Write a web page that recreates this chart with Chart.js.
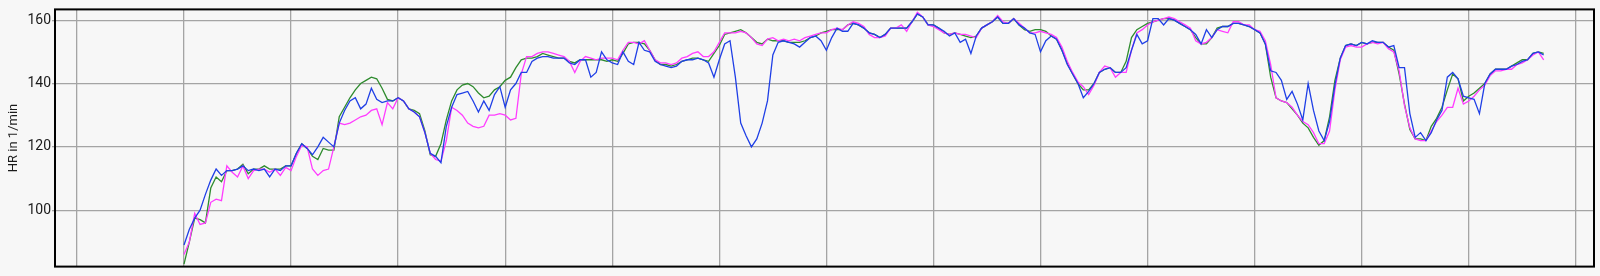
<!DOCTYPE html>
<html>
<head>
<meta charset="utf-8">
<script src="https://cdn.jsdelivr.net/npm/chart.js@4"></script>
<style>
  html, body { margin: 0; padding: 0; background: #f7f7f7; }
  #wrap { width: 1600px; height: 276px; }
</style>
</head>
<body>
<div id="wrap"><canvas id="hrChart"></canvas></div>
<script>
'use strict';

// time axis (arbitrary units, one grid line every 10), samples every 0.5
const timeStart = 10;
const timeStep = 0.5;
const xGridTicks = [0, 10, 20, 30, 40, 50, 60, 70, 80, 90, 100, 110, 120, 130, 140];
const yTicks = [100, 120, 140, 160];

const hrBlue = [
  89, 94, 97.5, 100, 105, 109.5, 113, 111, 112.5, 112.5,
  113, 114, 112.5, 113, 112.5, 113, 110.5, 113, 112.5, 114,
  114, 118, 121, 119.5, 117.5, 120, 123, 121.5, 120, 127.5,
  131.5, 134.5, 135.5, 132, 133.5, 138.5, 135, 134, 134.5, 134.5,
  135.5, 134.5, 132, 131, 129.5, 124.5, 118, 117, 115, 126.5,
  132.5, 136.5, 137, 137.5, 134.5, 131, 134.5, 131.5, 136.5, 139,
  132.5, 138, 140, 143.5, 143.5, 147, 148, 148.5, 148.5, 148,
  148, 148, 146.5, 146, 147.5, 147.5, 142, 143.5, 150, 147.5,
  146.5, 146, 150, 147, 146, 153, 150.5, 150, 147, 146,
  145.5, 145, 145.5, 147, 147.5, 147.5, 148, 147.5, 146.5, 142,
  147.5, 152.5, 153.5, 142, 127.5, 123.5, 120, 122.5, 127.5, 134.5,
  149, 153, 153.5, 153, 152.5, 151.5, 153, 154.5, 155, 153.5,
  150.5, 154.5, 157.5, 156.5, 156.5, 159, 158.5, 157.5, 156, 155.5,
  154.5, 155.5, 157.5, 157.5, 157.5, 157.5, 159.5, 162, 161, 158.5,
  158.5, 157.5, 156.5, 155, 156, 153, 154, 149.5, 155, 157.5,
  158.5, 159.5, 161, 159, 159, 160.5, 158.5, 157.5, 156, 155.5,
  150, 153.5, 155, 154, 150.5, 146, 143, 140, 135.5, 137.5,
  140, 143.5, 144.5, 145, 143.5, 143.5, 145, 150.5, 155.5, 152.5,
  153.5, 160.5, 160.5, 158.5, 160.5, 160, 159, 158, 157, 155.5,
  152.5, 157, 154.5, 157, 158, 158, 159, 159, 158.5, 158,
  157, 156, 152.5, 144, 143.5, 141, 135, 137.5, 133.5, 128.5,
  140, 131.5, 125, 122, 128, 139.5, 148, 152, 152.5, 152,
  153, 152.5, 153.5, 153, 153, 151.5, 152, 145, 145, 130.5,
  123, 124.5, 122, 124.5, 128.5, 131.5, 142, 143.5, 141.5, 136,
  135.5, 135, 130.5, 140, 143, 144.5, 144.5, 144.5, 145.5, 146,
  147, 147.5, 149.5, 150, 149
];

const hrGreen = [
  83, 90, 97.5, 97, 96, 107, 110.5, 109, 112.5, 112.5,
  113, 114.5, 111.5, 113, 113, 114, 113, 113, 113, 114,
  114, 118, 121, 119.5, 117, 116, 119.5, 119, 119, 129.5,
  132.5, 135.5, 138, 140, 141, 142, 141.5, 138.5, 135, 134.5,
  135.5, 134.5, 132, 131.5, 130.5, 125, 117.5, 117, 121, 128.5,
  134.5, 138, 139.5, 140, 139, 137, 135.5, 136, 138, 139,
  141, 142, 145, 147.5, 148, 148, 148.5, 149.5, 149, 148.5,
  148, 148, 147, 146.5, 147.5, 147.5, 147.5, 147.5, 147.5, 147,
  147.5, 147, 149.5, 152.5, 153, 153, 152.5, 150.5, 147.5, 146,
  146, 145.5, 146, 147, 147.5, 148, 148, 147.5, 147, 149.5,
  152, 155.5, 156, 156.5, 157, 156, 154.5, 153, 152.5, 154,
  153.5, 153.5, 153.5, 153, 153, 153, 153.5, 154.5, 155, 156,
  156.5, 157, 157, 157, 158.5, 159, 158.5, 157.5, 156, 155.5,
  154.5, 155.5, 157.5, 157.5, 157.5, 157.5, 159.5, 162, 161, 158.5,
  158.5, 157.5, 156, 155.5, 156, 155.5, 155, 154.5, 155, 157.5,
  158.5, 159.5, 161, 159, 159, 160.5, 158.5, 157, 156.5, 157,
  157, 156.5, 155, 154, 150.5, 146.5, 143, 140, 138, 138,
  140, 143.5, 144.5, 145, 143.5, 143.5, 147, 154.5, 157, 158,
  159, 159.5, 160, 160.5, 160.5, 160, 159, 158, 157, 154.5,
  152.5, 152.5, 154.5, 157.5, 158, 158, 159, 159, 158.5, 158,
  157, 156, 152.5, 142, 135.5, 134.5, 134, 132, 130, 127.5,
  126, 123, 120.5, 122, 129.5, 141, 148, 152, 152.5, 152,
  153, 152.5, 153, 153, 153, 151.5, 150.5, 143, 133.5, 125.5,
  122.5, 122.5, 122, 126.5, 129, 132.5, 138, 143, 141.5, 134.5,
  136, 137, 138.5, 140, 143, 144.5, 144.5, 144.5, 145.5, 146.5,
  147.5, 147.5, 149.5, 150, 149.5
];

const hrMagenta = [
  86, 90, 99, 95.5, 96, 102.5, 103.5, 103, 114, 112,
  110.5, 114, 110, 112.5, 113, 113, 112, 113, 111, 113.5,
  112.5, 117, 120.5, 120, 113, 111, 112.5, 113, 120, 127.5,
  127, 127.5, 128.5, 129.5, 130, 131.5, 132, 127, 134, 132,
  135.5, 134.5, 132, 131, 129.5, 124.5, 118, 116, 115.5, 122,
  132.5, 131.5, 130, 127.5, 126.5, 126, 126.5, 130, 130, 130.5,
  130, 128.5, 129, 143, 148.5, 148.5, 149.5, 150, 150, 149.5,
  149, 148.5, 147, 143.5, 147, 148.5, 148, 147.5, 148, 148,
  148, 147.5, 150.5, 153, 153, 152.5, 153.5, 150.5, 147.5, 146.5,
  146.5, 146, 146.5, 148, 148.5, 149.5, 150, 148.5, 148.5, 150,
  153, 156, 156, 156, 156.5, 156, 154.5, 152.5, 152, 154,
  154.5, 153.5, 154, 153.5, 154, 153.5, 154.5, 155, 155.5, 156,
  156, 157, 157.5, 157, 158.5, 159.5, 159, 158, 155.5, 154.5,
  154.5, 155, 157.5, 157.5, 158.5, 156.5, 159.5, 162.5, 161, 158.5,
  158, 157, 156, 155.5, 156, 155.5, 155.5, 155, 154.5, 157.5,
  158.5, 159.5, 161.5, 159.5, 159, 160.5, 159, 157.5, 156, 156,
  156.5, 156, 155.5, 154.5, 151.5, 147, 143.5, 140.5, 139, 136.5,
  139.5, 143.5, 145.5, 145, 142, 143.5, 143.5, 150.5, 156, 157,
  158.5, 159.5, 160, 160.5, 161, 160.5, 159.5, 158.5, 157.5, 153.5,
  152.5, 153, 154.5, 157, 156.5, 156, 159.5, 159.5, 158.5, 158.5,
  157, 156.5, 153.5, 146, 135.5, 134.5, 134, 132.5, 130, 128,
  127, 124.5, 121, 121, 125, 138, 147.5, 151.5, 152, 151.5,
  151.5, 152.5, 153, 152.5, 153, 151, 150, 144, 133, 126,
  122.5, 122, 122, 125, 128, 130, 132.5, 132.5, 138.5, 133.5,
  134.5, 136, 138, 139.5, 142.5, 144, 144, 144.5, 144.5, 146,
  146.5, 147.5, 149, 150, 147.5
];

function toPoints(values) {
  return values.map((v, i) => ({ x: timeStart + i * timeStep, y: v }));
}

const bgPlugin = {
  id: 'bgFill',
  beforeDraw(chart) {
    const c = chart.ctx;
    c.save();
    c.fillStyle = '#f7f7f7';
    c.fillRect(0, 0, chart.width, chart.height);
    c.restore();
  }
};

const framePlugin = {
  id: 'frame',
  afterDraw(chart) {
    const a = chart.chartArea;
    const c = chart.ctx;
    c.save();
    c.strokeStyle = '#000';
    c.lineWidth = 2;
    c.strokeRect(a.left, a.top, a.right - a.left, a.bottom - a.top);
    c.restore();
  }
};

new Chart(document.getElementById('hrChart'), {
  type: 'line',
  data: {
    datasets: [
      { label: 'blue', data: toPoints(hrBlue), borderColor: '#1f3fe6', order: 0 },
      { label: 'magenta', data: toPoints(hrMagenta), borderColor: '#ff3cff', order: 1 },
      { label: 'green', data: toPoints(hrGreen), borderColor: '#2e8b2e', order: 2 }
    ]
  },
  options: {
    responsive: true,
    maintainAspectRatio: false,
    animation: false,
    layout: { padding: { top: 8, right: 6, bottom: 8, left: 0 } },
    elements: {
      line: { borderWidth: 1.3, tension: 0, fill: false },
      point: { radius: 0 }
    },
    plugins: {
      legend: { display: false },
      tooltip: { enabled: false }
    },
    scales: {
      x: {
        type: 'linear',
        min: -2.05,
        max: 141.7,
        afterBuildTicks: scale => { scale.ticks = xGridTicks.map(v => ({ value: v })); },
        afterFit: scale => { scale.height = 0; },
        ticks: { display: false },
        grid: { color: '#a4a4a4', lineWidth: 1.3, drawTicks: false },
        border: { display: false }
      },
      y: {
        min: 82.2,
        max: 163.4,
        afterBuildTicks: scale => { scale.ticks = yTicks.map(v => ({ value: v })); },
        afterFit: scale => { scale.width = 55; },
        ticks: {
          padding: 1,
          color: '#1a1a1a',
          font: { family: 'Roboto', size: 14 }
        },
        grid: { color: '#a4a4a4', lineWidth: 1.3, tickLength: 3 },
        border: { display: false },
        title: {
          display: true,
          text: 'HR in 1/min',
          color: '#1a1a1a',
          padding: { top: 6, bottom: 0 },
          font: { family: 'Roboto', size: 13 }
        }
      }
    }
  },
  plugins: [bgPlugin, framePlugin]
});
</script>
</body>
</html>
